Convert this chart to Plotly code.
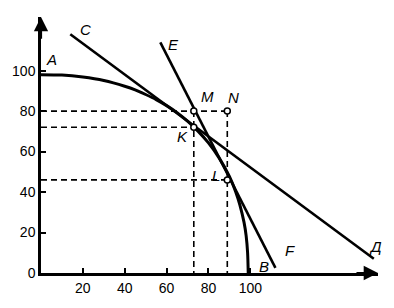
import plotly.graph_objects as go

# Production possibility curve A-B
curve_x = [0, 10, 20, 30, 40, 45, 50, 55, 60, 65, 70, 75, 80, 85, 90, 93, 95, 97, 98, 98.7, 99]
curve_y = [98, 97.8, 96.8, 95.1, 92.3, 90.5, 88.2, 85.7, 82.7, 79.2, 75, 70.1, 64.3, 57, 47.7, 40.2, 33.7, 25, 18.5, 10, 0]

# Straight lines C-Д and E-F (endpoints)
line_cd_x = [14, 159]
line_cd_y = [118, 7]
line_ef_x = [57, 112]
line_ef_y = [114, 2.5]

# Marked points
pt_names = ["M", "N", "K", "L"]
pt_x = [73, 89, 73, 89]
pt_y = [80, 80, 72, 46]

# Labels
lab_text = ["A", "C", "E", "K", "M", "N", "L", "F", "B", "Д"]
lab_x = [4.8, 21.4, 63.3, 67.6, 79.5, 91.9, 83.8, 119, 106.7, 160]
lab_y = [105.4, 120.1, 112.7, 67.6, 87.3, 86.8, 48.0, 11, 3.4, 13.2]

x_ticks = [20, 40, 60, 80, 100]
y_ticks = [0, 20, 40, 60, 80, 100]

fig = go.Figure()

dash = "6px,4px"
lw_dash = 1.6
# dashed guides
fig.add_trace(go.Scatter(x=[0, pt_x[1]], y=[pt_y[0], pt_y[1]], mode="lines",
                         line=dict(color="black", width=lw_dash, dash=dash), hoverinfo="skip"))
fig.add_trace(go.Scatter(x=[0, pt_x[2]], y=[pt_y[2], pt_y[2]], mode="lines",
                         line=dict(color="black", width=lw_dash, dash=dash), hoverinfo="skip"))
fig.add_trace(go.Scatter(x=[0, pt_x[3]], y=[pt_y[3], pt_y[3]], mode="lines",
                         line=dict(color="black", width=lw_dash, dash=dash), hoverinfo="skip"))
fig.add_trace(go.Scatter(x=[pt_x[0], pt_x[0]], y=[pt_y[0], 0], mode="lines",
                         line=dict(color="black", width=lw_dash, dash=dash), hoverinfo="skip"))
fig.add_trace(go.Scatter(x=[pt_x[1], pt_x[1]], y=[pt_y[1], 0], mode="lines",
                         line=dict(color="black", width=lw_dash, dash=dash), hoverinfo="skip"))

# curve
fig.add_trace(go.Scatter(x=curve_x, y=curve_y, mode="lines",
                         line=dict(color="black", width=3, shape="spline", smoothing=0.8),
                         hoverinfo="skip"))
# lines
fig.add_trace(go.Scatter(x=line_cd_x, y=line_cd_y, mode="lines",
                         line=dict(color="black", width=2.6), hoverinfo="skip"))
fig.add_trace(go.Scatter(x=line_ef_x, y=line_ef_y, mode="lines",
                         line=dict(color="black", width=2.6), hoverinfo="skip"))
# points
fig.add_trace(go.Scatter(x=pt_x, y=pt_y, mode="markers",
                         marker=dict(size=6, color="white", line=dict(color="black", width=1.5)),
                         hoverinfo="skip"))

for t, x, y in zip(lab_text, lab_x, lab_y):
    fig.add_annotation(x=x, y=y, text=f"<i>{t}</i>", showarrow=False,
                       font=dict(family="Arial", size=15, color="black"))

fig.add_annotation(x=160, y=-7.4, text="<i>X</i>", showarrow=False,
                   font=dict(family="Arial", size=16, color="black"))
fig.add_annotation(x=-6.2, y=124, text="<i>Y</i>", showarrow=False,
                   font=dict(family="Arial", size=16, color="black"))

# axis arrows
fig.add_annotation(x=161, y=0, ax=150, ay=0, xref="x", yref="y", axref="x", ayref="y",
                   showarrow=True, arrowhead=2, arrowsize=1.3, arrowwidth=2.2, arrowcolor="black", text="")
fig.add_annotation(x=0, y=126.5, ax=0, ay=115, xref="x", yref="y", axref="x", ayref="y",
                   showarrow=True, arrowhead=2, arrowsize=1.3, arrowwidth=2.2, arrowcolor="black", text="")

fig.update_layout(
    width=394, height=308,
    margin=dict(l=40, r=16, t=17, b=33),
    paper_bgcolor="white", plot_bgcolor="white",
    showlegend=False,
    xaxis=dict(range=[0, 161], showgrid=False, zeroline=False, showline=True,
               linecolor="black", linewidth=2.5, ticks="inside", ticklen=5, tickwidth=1.5,
               tickcolor="black", tickvals=x_ticks, ticktext=[str(v) for v in x_ticks],
               tickfont=dict(family="Arial", size=14, color="black")),
    yaxis=dict(range=[0, 126.5], showgrid=False, zeroline=False, showline=True,
               linecolor="black", linewidth=2.5, ticks="inside", ticklen=5, tickwidth=1.5,
               tickcolor="black", tickvals=y_ticks, ticktext=[str(v) for v in y_ticks],
               tickfont=dict(family="Arial", size=14, color="black")),
)

fig.write_html("out.html")
